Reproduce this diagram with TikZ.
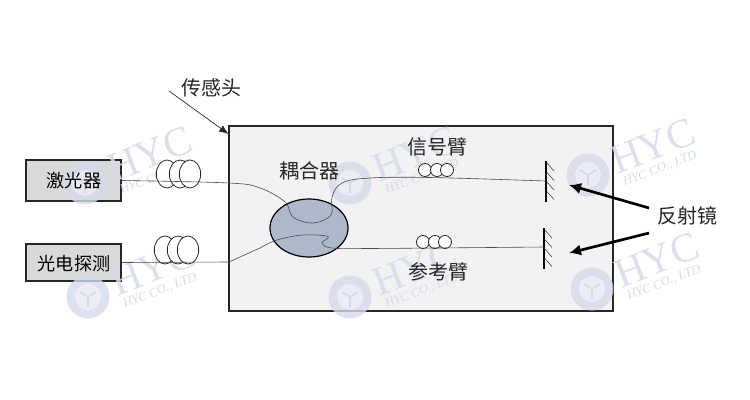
\documentclass[tikz,border=0pt]{standalone}
\usepackage{fontspec}
\setmainfont{Liberation Serif}
\newfontfamily\cjk{Noto Sans CJK SC}
\usetikzlibrary{shapes.geometric,arrows.meta}

\begin{document}
\begin{tikzpicture}
[x=0.75pt,y=-0.75pt,%
  boxDecorate/.style={shape=rectangle,draw=black!85,line width=0.9pt,fill=black!15,minimum width=71.25pt,inner sep=0pt,font=\cjk\fontsize{13.6}{15}\selectfont},%
  labelDecorate/.style={inner sep=0pt,font=\cjk\fontsize{15}{17}\selectfont,text=black!85},%
  coilBig/.style={shape=ellipse,draw=black!85,line width=0.6pt,fill=white,minimum width=16pt,minimum height=21pt,inner sep=0pt},%
  coilSmall/.style={shape=circle,draw=black!85,line width=0.6pt,fill=white,minimum size=9.75pt,inner sep=0pt},%
  fiberDecorate/.style={draw=black!70,line width=0.45pt},%
  mirrorDecorate/.style={draw=black,line width=0.9pt},%
  hatchDecorate/.style={draw=black!80,line width=0.4pt},%
  pointerDecorate/.style={draw=black,line width=2pt,-{Latex[length=9pt,width=8.5pt]}},%
  markDecorate/.style={inner sep=0pt,text=wmBlue,rotate=21}]
\definecolor{wmBlue}{RGB}{214,218,234}
\definecolor{couplerBlue}{RGB}{173,185,202}
\useasboundingbox (0,0) rectangle (750,400);
%% boxes
\node (head) at (421,218.5) [draw=black!85,line width=0.9pt,fill=black!5,minimum width=288pt,minimum height=138.75pt,inner sep=0pt] {};
\node (laser) at (73.5,180.5) [boxDecorate,minimum height=30.75pt] {};
\node (detector) at (73.5,262.5) [boxDecorate,minimum height=27.75pt] {};
\node (coupler) at (309,228) [shape=ellipse,draw=black,line width=0.9pt,fill=couplerBlue,minimum width=58.5pt,minimum height=43.5pt,inner sep=0pt] {};
%% watermark
\foreach \markname/\x/\y in {a/85/183, b/88/297, c/350/183, d/350/297, e/588/175, f/592/289}
{
  \fill[wmBlue,opacity=0.8] (\x,\y) circle (21.5);
  \fill[white,opacity=0.45] (\x,\y) circle (13);
  \draw[wmBlue,line width=1.2pt] (\x-8,\y-5) -- (\x,\y) -- (\x+8,\y-5) (\x,\y) -- (\x,\y+10);
  \node (hyc\markname) at (\x+65,\y-29) [markDecorate,opacity=0.85,font=\fontsize{31}{32}\selectfont] {HYC};
  \node (co\markname) at (\x+72,\y-6) [markDecorate,font=\itshape\fontsize{9.5}{10}\selectfont] {HYC CO., LTD};
}
%% coils
\foreach \coilname/\x/\y in {p/167/174, q/180/174, r/190/174, s/165/250, t/178/250, u/188/250}
{
  \node (\coilname) at (\x,\y) [coilBig] {};
}
\foreach \coilname/\x/\y in {v/425/170, w/437/170, z/447/170, l/423/242, m/435/242, n/445/242}
{
  \node (\coilname) at (\x,\y) [coilSmall] {};
}
%% texts
\node (laserText) at (74,181) [boxDecorate,draw=none,fill=none] {激光器};
\node (detectorText) at (74,264) [boxDecorate,draw=none,fill=none] {光电探测};
\node (headText) at (211,88) [labelDecorate] {传感头};
\node (couplerText) at (309,171) [labelDecorate] {耦合器};
\node (signalText) at (437,147) [labelDecorate] {信号臂};
\node (referenceText) at (438,272) [labelDecorate] {参考臂};
\node (mirrorText) at (687,216) [labelDecorate] {反射镜};
%% mirrors
\coordinate (mirrorA) at (546,181);
\coordinate (mirrorB) at (544,247);
\draw[mirrorDecorate] (546,161) -- (546,202);
\draw[mirrorDecorate] (544,228) -- (544,269);
\foreach \x/\y in {546/162, 546/171.5, 546/181, 546/190.5, 544/229, 544/238.5, 544/248, 544/257.5}
{
  \draw[hatchDecorate] (\x,\y) -- (\x+8,\y+9);
}
%% fibers
\draw[fiberDecorate] plot[smooth,tension=0.6] coordinates {(laser.east) (229,183) (260,188) (285,202) (293,217) (313,223) (331,215) (332,197) (342,183) (370,178) (430,177.5) (mirrorA)};
\draw[fiberDecorate] (detector.east) -- (229,262) -- (260,248);
\draw[fiberDecorate] plot[smooth,tension=0.6] coordinates {(260,248) (277,240) (303,235) (328,236.5) (322,243) (332,248) (370,248.5) (mirrorB)};
%% pointers
\coordinate (headTip) at (228.5,134);
\coordinate (headFrom) at (169,91);
\coordinate (fromA) at (649,208);
\coordinate (fromB) at (649,233);
\coordinate (tipA) at (569,185);
\coordinate (tipB) at (569,253);
\draw[draw=black!85,line width=0.5pt,-{Latex[length=7pt,width=5.5pt]}] (headFrom) -- (headTip);
\draw[pointerDecorate] (fromA) -- (tipA);
\draw[pointerDecorate] (fromB) -- (tipB);
\end{tikzpicture}
\end{document}
